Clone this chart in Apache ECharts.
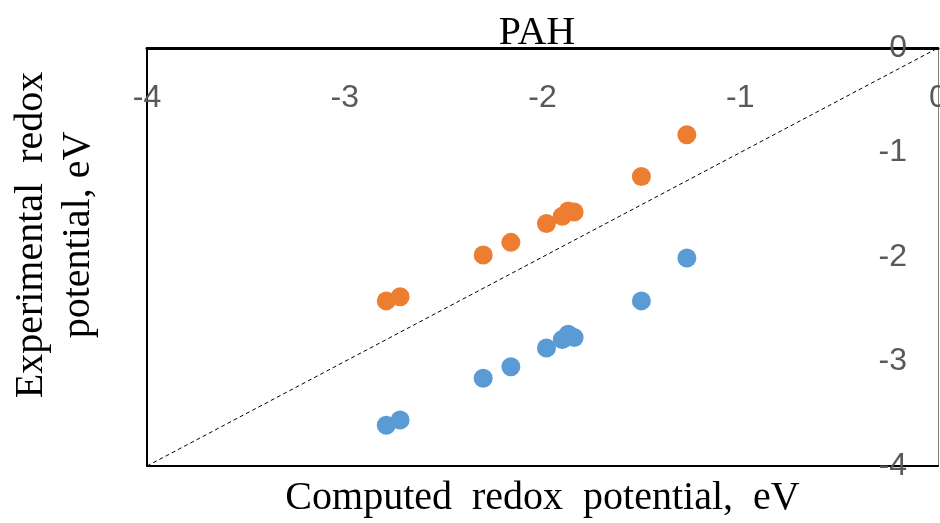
<!DOCTYPE html>
<html>
<head>
<meta charset="utf-8">
<script src="https://cdn.jsdelivr.net/npm/echarts@6/dist/echarts.min.js"></script>
<style>
  html, body { margin: 0; padding: 0; background: #fff; }
  #chart { width: 940px; height: 523px; }
</style>
</head>
<body>
<div id="chart"></div>
<script>
// computed vs experimental redox potentials (eV)
var computed = [-2.79, -2.72, -2.30, -2.16, -1.98, -1.90, -1.87, -1.84, -1.50, -1.27];
var expOrange = [-2.42, -2.38, -1.98, -1.86, -1.68, -1.61, -1.56, -1.57, -1.23, -0.83];
var expBlue = [-3.61, -3.56, -3.16, -3.05, -2.87, -2.79, -2.74, -2.77, -2.42, -2.01];
var parityLine = [[-4, -4], [0, 0]];

function pairs(xs, ys) {
    return xs.map(function (x, i) { return [x, ys[i]]; });
}

var chart = echarts.init(document.getElementById('chart'));
var serif = 'Liberation Serif';
var tickFont = { color: '#595959', fontSize: 32, fontFamily: 'Liberation Sans' };

chart.setOption({
    animation: false,
    title: {
        text: 'PAH',
        left: 532, top: 8, textAlign: 'center',
        textStyle: { fontFamily: serif, fontSize: 40, fontWeight: 'normal', color: '#000' }
    },
    grid: { left: 147, right: 2, top: 48, bottom: 57, containLabel: false, outerBoundsMode: 'none' },
    xAxis: [{
        type: 'value', position: 'top', min: -4, max: 0, interval: 1,
        axisLine: { show: true, onZero: false, lineStyle: { color: '#000', width: 3 } },
        axisTick: { show: false },
        splitLine: { show: false },
        axisLabel: Object.assign({ inside: true, margin: 34, showMaxLabel: true }, tickFont)
    }, {
        type: 'value', position: 'bottom', min: -4, max: 0,
        axisLine: { show: true, onZero: false, lineStyle: { color: '#000', width: 2 } },
        axisTick: { show: false }, axisLabel: { show: false }, splitLine: { show: false },
        name: 'Computed  redox  potential,  eV', nameLocation: 'middle', nameGap: 12,
        nameTextStyle: { fontFamily: serif, fontSize: 40, color: '#000' }
    }],
    yAxis: [{
        type: 'value', position: 'right', min: -4, max: 0, interval: 1,
        axisLine: { show: true, onZero: false, lineStyle: { color: '#808080', width: 1 } },
        axisTick: { show: false },
        splitLine: { show: false },
        axisLabel: Object.assign({ inside: true, margin: 31, align: 'right' }, tickFont)
    }, {
        type: 'value', position: 'left', min: -4, max: 0,
        axisLine: { show: true, onZero: false, lineStyle: { color: '#000', width: 2 } },
        axisTick: { show: false }, axisLabel: { show: false }, splitLine: { show: false },
        name: 'Experimental  redox\npotential, eV', nameLocation: 'middle', nameGap: 45,
        nameTextStyle: { fontFamily: serif, fontSize: 40, color: '#000', lineHeight: 47, padding: [0, 0, 0, 44] }
    }],
    series: [{
        type: 'line', data: parityLine, symbol: 'none', silent: true,
        lineStyle: { color: '#000', width: 1, type: [4, 3] }
    }, {
        type: 'scatter', data: pairs(computed, expOrange), symbolSize: 19,
        itemStyle: { color: '#ED7D31', opacity: 1 }
    }, {
        type: 'scatter', data: pairs(computed, expBlue), symbolSize: 19,
        itemStyle: { color: '#5B9BD5', opacity: 1 }
    }]
});
</script>
</body>
</html>
